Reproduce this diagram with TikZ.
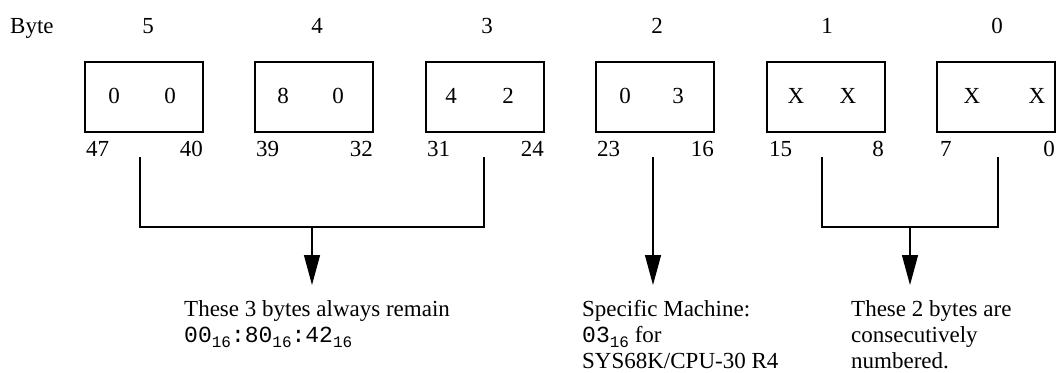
\documentclass[tikz,border=0pt]{standalone}
\usepackage{fontspec}
\setmainfont{Liberation Serif}
\setmonofont{Liberation Mono}
\usetikzlibrary{arrows.meta}
\newcommand\hsub[1]{\raisebox{-5pt}{\fontsize{16}{16}\selectfont\ttfamily #1}}
\newcommand\hx[1]{{\fontsize{23}{23}\selectfont\ttfamily #1}}
\tikzset{
  bytebox/.style={draw, line width=1.3pt, minimum width=118pt, minimum height=70pt, inner sep=0pt},
  txt/.style={font=\fontsize{23}{26}\selectfont, inner sep=0pt},
  lbl/.style={txt, anchor=base},
  conn/.style={line width=1.3pt},
  arr/.style={conn, -{Triangle[length=30pt,width=16pt]}},
  note/.style={txt, align=left, anchor=north west}
}
\begin{document}
\begin{tikzpicture}[x=1pt,y=-1pt]
\useasboundingbox (0,0) rectangle (1057,372);
% header
\node[lbl, anchor=base west] (byte) at (10,33) {Byte};
\node[lbl] (n5) at (148,33) {5};
\node[lbl] (n4) at (317,33) {4};
\node[lbl] (n3) at (487,33) {3};
\node[lbl] (n2) at (657,33) {2};
\node[lbl] (n1) at (827,33) {1};
\node[lbl] (n0) at (997,33) {0};
% boxes
\node[bytebox] (b5) at (144,97) {};
\node[bytebox] (b4) at (314,97) {};
\node[bytebox] (b3) at (485,97) {};
\node[bytebox] (b2) at (655,97) {};
\node[bytebox] (b1) at (826,97) {};
\node[bytebox] (b0) at (996,97) {};
% contents
\node[lbl] (d5a) at (114,103) {0};
\node[lbl] (d5b) at (170,103) {0};
\node[lbl] (d4a) at (283,103) {8};
\node[lbl] (d4b) at (338,103) {0};
\node[lbl] (d3a) at (451,103) {4};
\node[lbl] (d3b) at (508,103) {2};
\node[lbl] (d2a) at (625,103) {0};
\node[lbl] (d2b) at (678,103) {3};
\node[lbl] (d1a) at (796,103) {X};
\node[lbl] (d1b) at (848,103) {X};
\node[lbl] (d0a) at (972,103) {X};
\node[lbl] (d0b) at (1037,103) {X};
% bit numbers
\node[lbl, anchor=base west] (p47) at (86,156) {47};
\node[lbl, anchor=base east] (p40) at (203,156) {40};
\node[lbl, anchor=base west] (p39) at (256,156) {39};
\node[lbl, anchor=base east] (p32) at (373,156) {32};
\node[lbl, anchor=base west] (p31) at (427,156) {31};
\node[lbl, anchor=base east] (p24) at (544,156) {24};
\node[lbl, anchor=base west] (p23) at (597,156) {23};
\node[lbl, anchor=base east] (p16) at (714,156) {16};
\node[lbl, anchor=base west] (p15) at (769,156) {15};
\node[lbl, anchor=base east] (p8) at (884,156) {8};
\node[lbl, anchor=base west] (p7) at (940,156) {7};
\node[lbl, anchor=base east] (p0) at (1055,156) {0};
% connector points
\coordinate (s5) at (140,157);
\coordinate (s3) at (484,157);
\coordinate (s2) at (653,157);
\coordinate (s1) at (822,157);
\coordinate (s0) at (998,157);
\coordinate (jA) at (312,227);
\coordinate (jC) at (910,227);
\coordinate (tA) at (312,285);
\coordinate (tB) at (653,285);
\coordinate (tC) at (910,285);
\draw[conn] (s5) |- (jA) -| (s3);
\draw[arr] (jA) -- (tA);
\draw[arr] (s2) -- (tB);
\draw[conn] (s1) |- (jC) -| (s0);
\draw[arr] (jC) -- (tC);
% notes
\node[note] (tx1) at (184,300) {These 3 bytes always remain\\\hx{00}\hsub{16}\hx{:80}\hsub{16}\hx{:42}\hsub{16}};
\node[note] (tx2) at (582,300) {Specific Machine:\\\hx{03}\hsub{16} for\\SYS68K/CPU-30 R4};
\node[note] (tx3) at (851,300) {These 2 bytes are\\consecutively\\numbered.};
\end{tikzpicture}
\end{document}
